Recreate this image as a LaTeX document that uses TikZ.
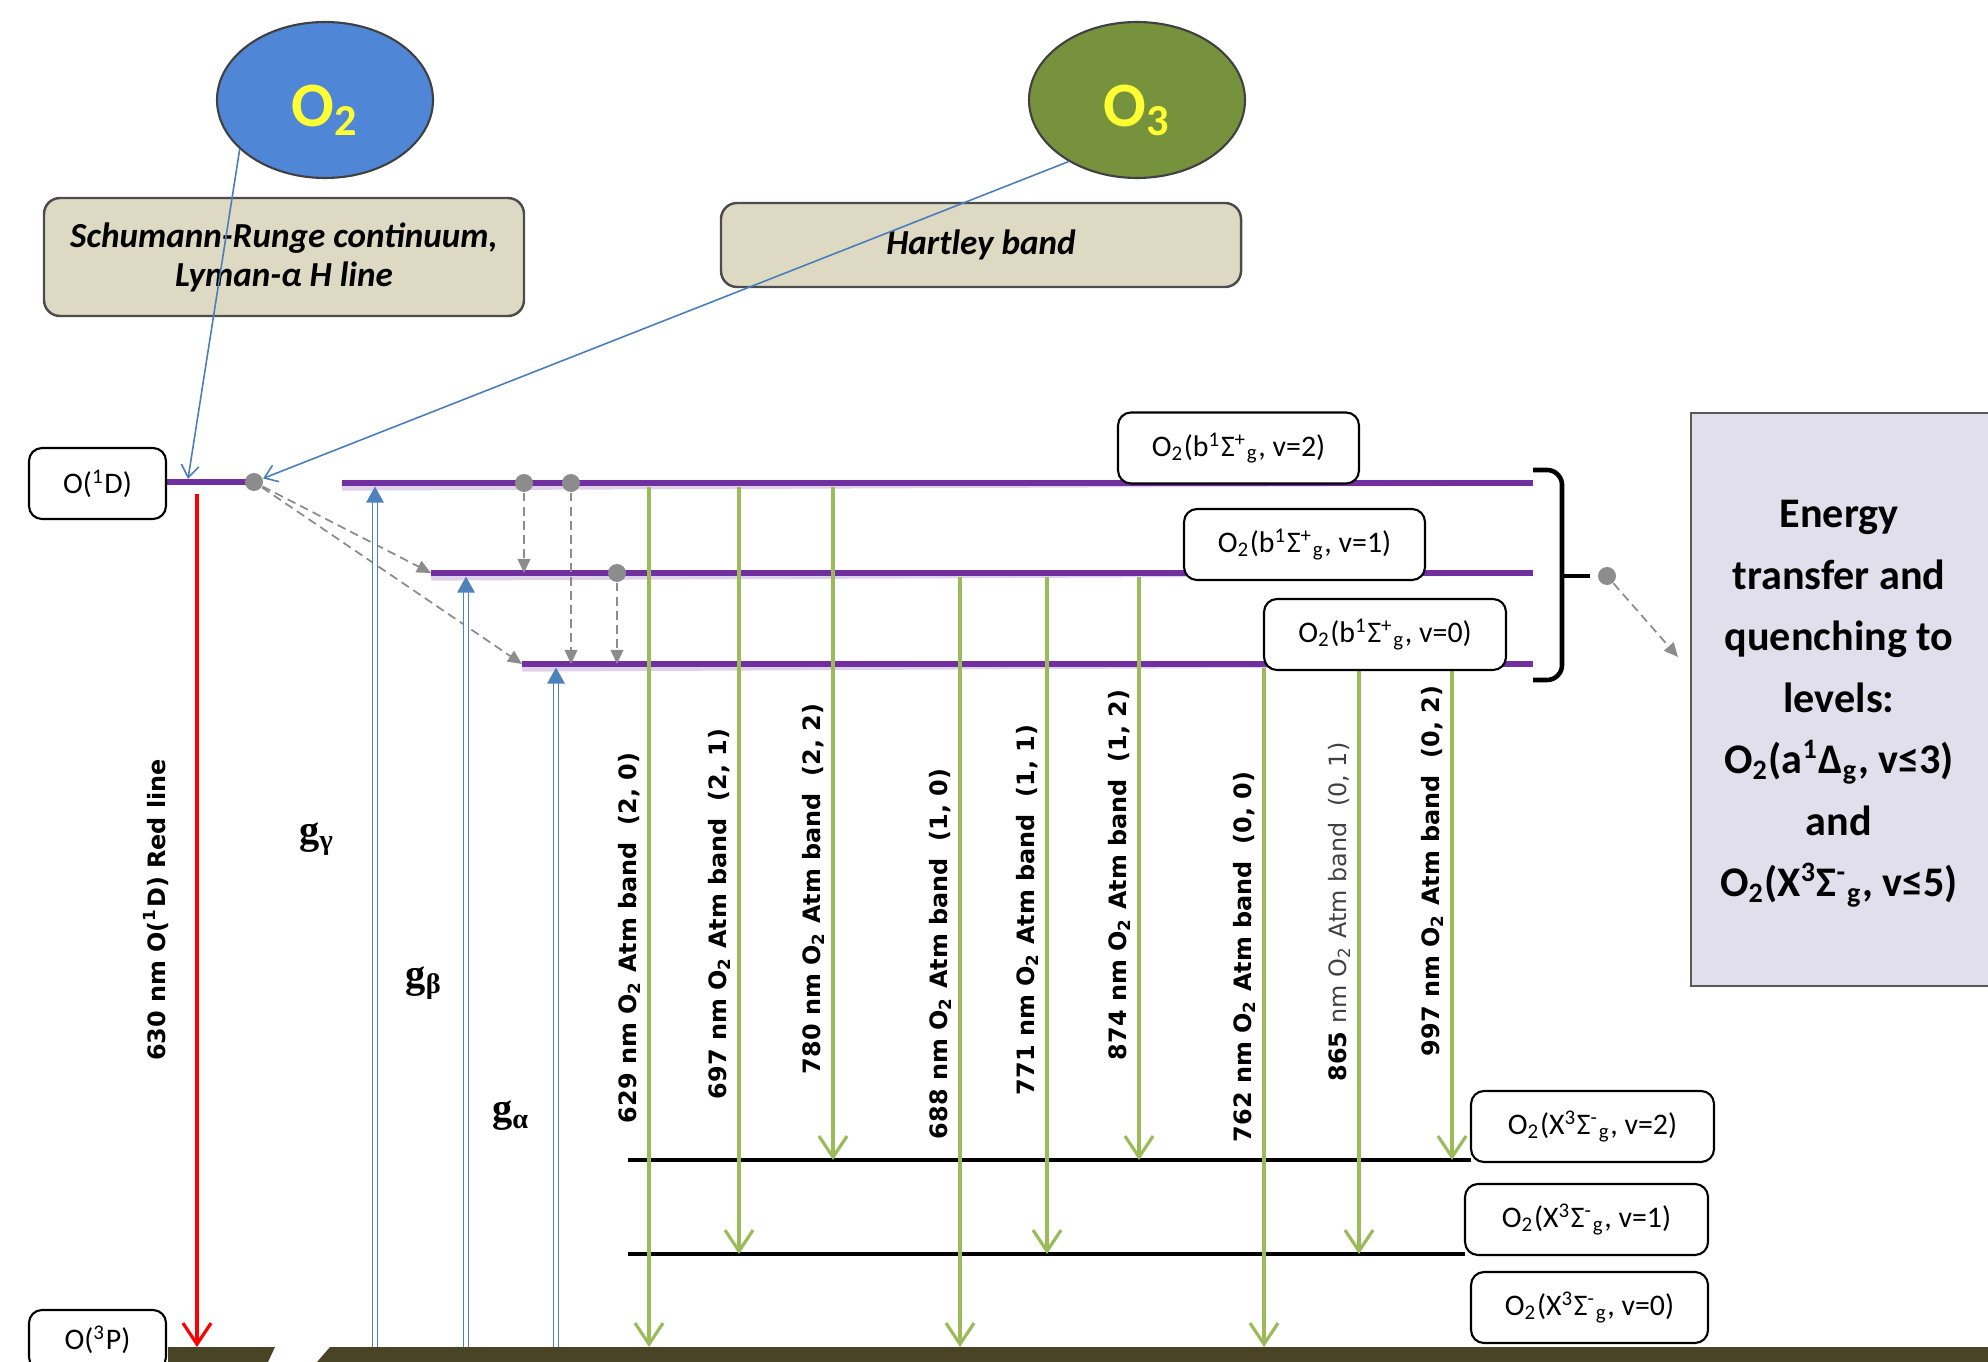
\documentclass[tikz,border=0pt]{standalone}
\usepackage{fontspec}
\setmainfont{Carlito}
\newfontfamily\bandfont{DejaVu Sans}
\newfontfamily\gfont{Liberation Serif}
\usetikzlibrary{arrows.meta, shapes.geometric}
\definecolor{Lvl_Purple}{HTML}{7030A0}
\definecolor{Pump_Blue}{HTML}{4F81BD}
\definecolor{Ray_Blue}{HTML}{4A7EBB}
\definecolor{Emis_Green}{HTML}{9BBB59}
\definecolor{Ground_Olive}{HTML}{4A4427}
\definecolor{Box_Tan}{HTML}{DDD9C3}
\definecolor{Box_Lilac}{HTML}{E2DFEC}
\definecolor{O2_Blue}{HTML}{4F86D6}
\definecolor{O3_Green}{HTML}{76923C}
\definecolor{Mol_Yellow}{HTML}{FFFF33}
\definecolor{Dot_Gray}{HTML}{8C8C8C}

\begin{document}
\begin{tikzpicture}[x=0.1mm, y=-0.1mm, >=Stealth,
    blevel/.style={line width=1.8pt, Lvl_Purple},
    blshadow/.style={line width=1.5pt, Lvl_Purple!22},
    xlevel/.style={line width=1.1pt, black},
    gndbar/.style={fill=Ground_Olive},
    mol/.style={ellipse, draw=black!75, line width=0.6pt, inner sep=0pt},
    moltxt/.style={text=Mol_Yellow, inner sep=0pt, font=\fontsize{18}{20}\selectfont\bfseries},
    srcbox/.style={draw=black!70, fill=Box_Tan, rounded corners=1.6mm, line width=0.7pt,
        align=center, inner sep=0pt, font=\fontsize{10}{11.1}\selectfont\bfseries\itshape},
    lbox/.style={draw=black, fill=white, rounded corners=1.3mm, line width=0.6pt, inner sep=0pt,
        minimum height=7.1mm, font=\fontsize{8.5}{10}\selectfont},
    pump/.style={Pump_Blue, line width=0.45pt, double=white, double distance=0.9pt,
        -{Triangle[length=4.6pt, width=5pt]}, shorten >=1pt},
    emis/.style={Emis_Green, line width=0.9pt, -{Straight Barb[length=6pt, width=8pt]}},
    redline/.style={red, line width=0.9pt, -{Straight Barb[length=6pt, width=8pt]}},
    uvray/.style={Ray_Blue, line width=0.45pt, -{Straight Barb[length=3.5pt, width=5pt]}},
    quench/.style={Dot_Gray, line width=0.5pt, dash pattern=on 2.5pt off 1.5pt,
        -{Triangle[length=4pt, width=3.6pt]}},
    grdot/.style={circle, fill=Dot_Gray, inner sep=0pt, minimum size=1.8mm},
    bandlbl/.style={rotate=90, inner sep=0pt, font=\bandfont\fontsize{6.8}{8}\selectfont\bfseries},
    glbl/.style={inner sep=0pt, font=\gfont\fontsize{11.5}{12}\selectfont\bfseries},
]
    \useasboundingbox (0,0) rectangle (1988,1362);
    \clip (0,0) rectangle (1988,1362);

    % Level anchors
    \coordinate (lvl1D) at (166,482);
    \coordinate (lvlB2) at (342,483);
    \coordinate (lvlB1) at (431,573);
    \coordinate (lvlB0) at (522,664);
    \coordinate (lvlX2) at (628,1160);
    \coordinate (lvlX1) at (628,1254);
    \coordinate (lvlG) at (317,1347);
    \coordinate (hit1D) at (188,479);

    % Source molecules and bands
    \node[mol, fill=O2_Blue, minimum width=21.6mm, minimum height=15.6mm] (o2) at (325,100) {};
    \node[moltxt] (o2t) at (325,110) {O\textsubscript{2}};
    \node[mol, fill=O3_Green, minimum width=21.6mm, minimum height=15.6mm] (o3) at (1137,100) {};
    \node[moltxt] (o3t) at (1137,110) {O\textsubscript{3}};
    \node[srcbox, minimum width=48mm, minimum height=11.8mm] (srbox) at (284,257)
        {Schumann-Runge continuum,\\Lyman-α H line};
    \node[srcbox, minimum width=52mm, minimum height=8.4mm] (hbox) at (981,245) {Hartley band};

    % O(1D) and b levels
    \draw[blevel] (lvl1D) -- (254,482);
    \foreach \lv/\xs in {B2/342, B1/431, B0/522} {
        \draw[blshadow] (\xs,0 |- lvl\lv) ++(0,5) -- (1533,0 |- lvl\lv) ++(0,5);
        \draw[blevel] (lvl\lv) -- (1533,0 |- lvl\lv);
    }
    \node[grdot] (d1D) at (254,482) {};

    % X levels and ground
    \draw[xlevel] (lvlX2) -- (1471,0 |- lvlX2);
    \draw[xlevel] (lvlX1) -- (1465,0 |- lvlX1);
    \fill[gndbar] (168,1347) -- (275,1347) -- (268,1362) -- (168,1362) -- cycle;
    \fill[gndbar] (330,1347) -- (1988,1347) -- (1988,1362) -- (317,1362) -- cycle;

    % Photodissociation
    \draw[uvray] (o2.210) -- (hit1D);
    \draw[uvray] (o3.222) -- (d1D);

    % 630 nm red line
    \draw[redline, shorten <=3.4pt] (197,0 |- lvl1D) -- (197,0 |- lvlG);
    \node[bandlbl] (lbl630) at (156,910) {630 nm O(\textsuperscript{1}D) Red line};

    % Transfer from O(1D) and between b levels
    \draw[quench] (d1D) -- (lvlB1);
    \draw[quench] (d1D) -- (lvlB0);
    \node[grdot] (dB2a) at (524,483) {};
    \node[grdot] (dB2b) at (571,483) {};
    \node[grdot] (dB1) at (617,573) {};
    \draw[quench] (dB2a) -- (dB2a |- lvlB1);
    \draw[quench] (dB2b) -- (dB2b |- lvlB0);
    \draw[quench] (dB1) -- (dB1 |- lvlB0);

    % Excitation g-factors
    \foreach \x/\lv in {375/B2, 466/B1, 556/B0}
        \draw[pump] (\x,0 |- lvlG) -- (\x,0 |- lvl\lv);
    \node[glbl] (ggam) at (317,839) {g\textsubscript{γ}};
    \node[glbl] (gbet) at (424,983) {g\textsubscript{β}};
    \node[glbl] (galp) at (511,1116) {g\textsubscript{α}};

    % Atmospheric band emissions
    \foreach \x/\up/\dn/\ly/\txt in {
        649/B2/G/938/{629 nm O\textsubscript{2} Atm band\ \ (2, 0)},
        739/B2/X1/914/{697 nm O\textsubscript{2} Atm band\ \ (2, 1)},
        833/B2/X2/889/{780 nm O\textsubscript{2} Atm band\ \ (2, 2)},
        960/B1/G/954/{688 nm O\textsubscript{2} Atm band\ \ (1, 0)},
        1047/B1/X1/910/{771 nm O\textsubscript{2} Atm band\ \ (1, 1)},
        1139/B1/X2/875/{874 nm O\textsubscript{2} Atm band\ \ (1, 2)},
        1264/B0/G/957/{762 nm O\textsubscript{2} Atm band\ \ (0, 0)},
        1359/B0/X1/912/{865 {\mdseries\color{black!75}nm O\textsubscript{2} Atm band\ \ (0, 1)}},
        1452/B0/X2/871/{997 nm O\textsubscript{2} Atm band\ \ (0, 2)}} {
        \draw[emis, shorten <=1pt] (\x,0 |- lvl\up) -- (\x,0 |- lvl\dn);
        \node[bandlbl] (lbl\x) at (\x-20,\ly) {\txt};
    }

    % State labels
    \node[lbox, minimum width=13.7mm] (o1d) at (97.5,483.5) {O(\textsuperscript{1}D)};
    \node[lbox, minimum width=13.7mm, minimum height=6mm] (o3p) at (97.5,1340) {O(\textsuperscript{3}P)};
    \node[lbox, minimum width=24.1mm] (b2box) at (1238.5,448) {O\textsubscript{2}(b\textsuperscript{1}Σ\textsuperscript{+}\textsubscript{g}, v=2)};
    \node[lbox, minimum width=24.1mm] (b1box) at (1304.5,544.5) {O\textsubscript{2}(b\textsuperscript{1}Σ\textsuperscript{+}\textsubscript{g}, v=1)};
    \node[lbox, minimum width=24.2mm] (b0box) at (1385,634.5) {O\textsubscript{2}(b\textsuperscript{1}Σ\textsuperscript{+}\textsubscript{g}, v=0)};
    \node[lbox, minimum width=24.3mm] (x2box) at (1592.5,1126.5) {O\textsubscript{2}(X\textsuperscript{3}Σ\textsuperscript{-}\textsubscript{g}, v=2)};
    \node[lbox, minimum width=24.3mm] (x1box) at (1586.5,1219.5) {O\textsubscript{2}(X\textsuperscript{3}Σ\textsuperscript{-}\textsubscript{g}, v=1)};
    \node[lbox, minimum width=23.7mm] (x0box) at (1589.5,1307.5) {O\textsubscript{2}(X\textsuperscript{3}Σ\textsuperscript{-}\textsubscript{g}, v=0)};

    % Bracket and quenching box
    \draw[line width=1.3pt, rounded corners=1.5mm] (1533,470) -- (1562,470) -- (1562,680) -- (1533,680);
    \node[grdot] (dBr) at (1607,576) {};
    \draw[line width=1.3pt, shorten >=2pt] (1562,576) -- (dBr);
    \node[draw=black!65, fill=Box_Lilac, line width=0.6pt, minimum width=33mm, minimum height=57.3mm,
        anchor=north west] (ebox) at (1690,412) {};
    \coordinate (eboxin) at (1678,657);
    \draw[quench] (dBr) -- (eboxin);
    \node[align=center, inner sep=0pt, font=\fontsize{12}{17.5}\selectfont\bfseries] (etxt) at (1839,704)
        {Energy\\transfer and\\quenching to\\levels:\\O\textsubscript{2}(a\textsuperscript{1}Δ\textsubscript{g}, v≤3)\\and\\O\textsubscript{2}(X\textsuperscript{3}Σ\textsuperscript{-}\textsubscript{g}, v≤5)};

\end{tikzpicture}
\end{document}
